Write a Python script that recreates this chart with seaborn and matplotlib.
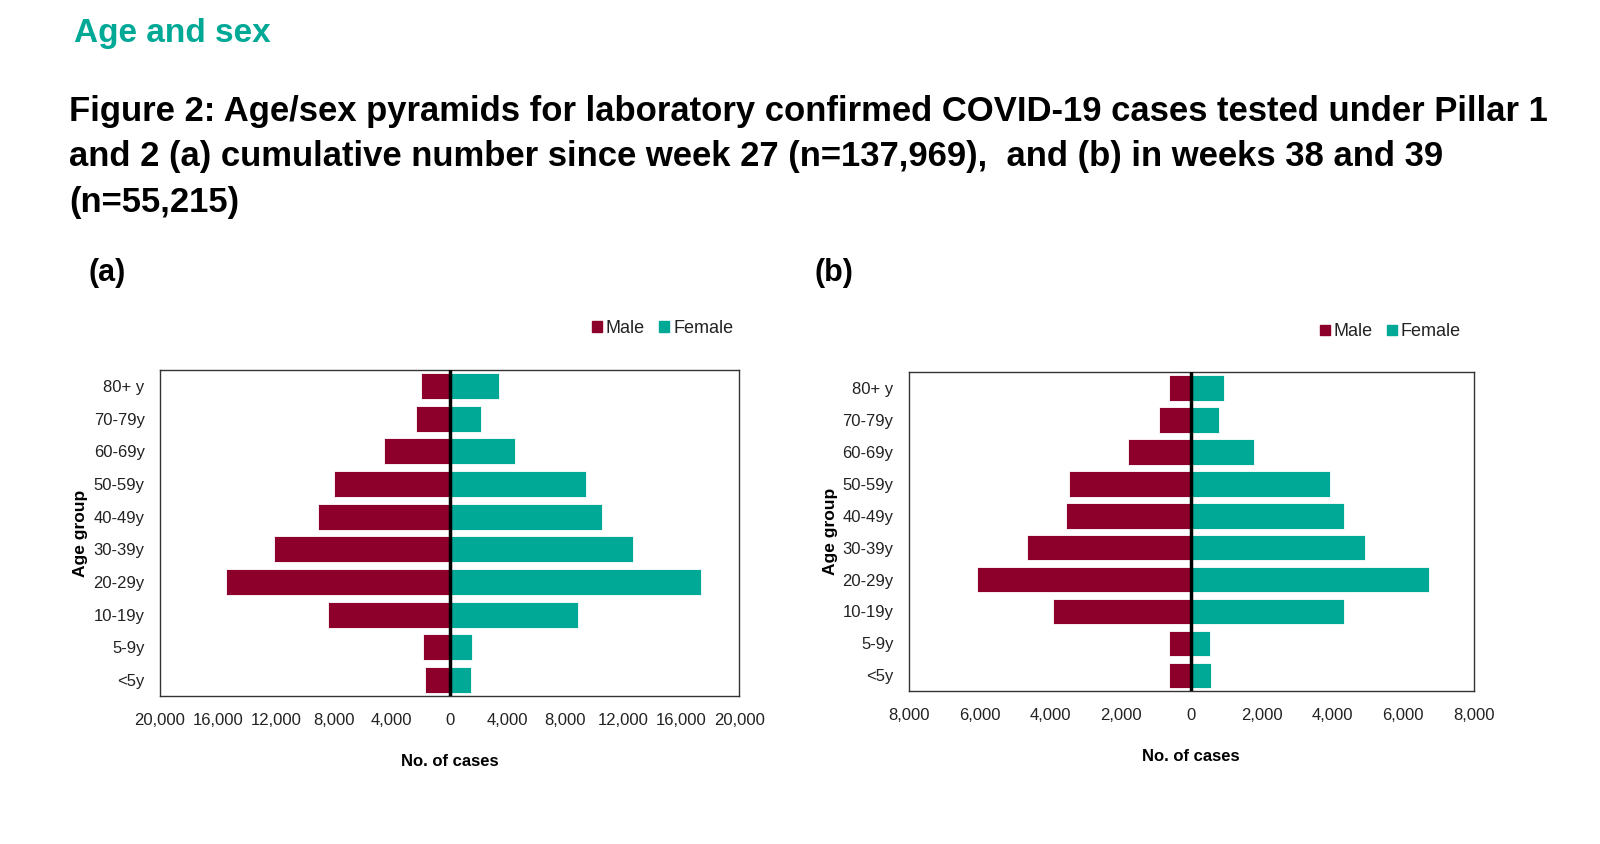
import matplotlib
matplotlib.use("Agg")
import matplotlib.pyplot as plt
import matplotlib.ticker as mticker
from matplotlib.patches import Patch
import pandas as pd
import seaborn as sns

# ---- data ----
age_groups = ["80+ y", "70-79y", "60-69y", "50-59y", "40-49y",
              "30-39y", "20-29y", "10-19y", "5-9y", "<5y"]

male_a = [2000, 2350, 4500, 7950, 9100, 12150, 15450, 8400, 1850, 1700]
female_a = [3400, 2150, 4550, 9450, 10550, 12700, 17350, 8900, 1580, 1450]

male_b = [620, 910, 1800, 3470, 3560, 4660, 6080, 3910, 620, 620]
female_b = [920, 780, 1770, 3940, 4320, 4930, 6740, 4340, 530, 560]

ticks_a = [-20000, -16000, -12000, -8000, -4000, 0, 4000, 8000, 12000, 16000, 20000]
ticks_b = [-8000, -6000, -4000, -2000, 0, 2000, 4000, 6000, 8000]

MALE = "#8E002C"
FEMALE = "#00A896"
TEAL_HEAD = "#00A896"

sns.set_style("white")
plt.rcParams["font.family"] = ["Liberation Sans", "DejaVu Sans"]


def long_frame(male, female):
    rows = []
    for age, m, f in zip(age_groups, male, female):
        rows.append({"age": age, "cases": -m, "sex": "Male"})
        rows.append({"age": age, "cases": f, "sex": "Female"})
    return pd.DataFrame(rows)


def pyramid(ax, male, female, ticks, legend_anchor, ylab_x):
    df = long_frame(male, female)
    sns.barplot(data=df, y="age", x="cases", hue="sex", order=age_groups,
                hue_order=["Male", "Female"], palette=[MALE, FEMALE],
                saturation=1, dodge=False, orient="h", width=0.8,
                edgecolor="white", linewidth=0.6, ax=ax, legend=False)
    ax.axvline(0, color="black", lw=2.5, zorder=5)
    ax.set_xlim(ticks[0], ticks[-1])
    ax.set_xticks(ticks)
    ax.xaxis.set_major_formatter(mticker.FuncFormatter(lambda v, p: f"{abs(v):,.0f}"))
    ax.tick_params(axis="both", length=0, labelsize=12, colors="#222222")
    ax.tick_params(axis="x", pad=12)
    ax.tick_params(axis="y", pad=11)
    ax.set_xlabel("No. of cases", fontsize=12, fontweight="bold", labelpad=19,
                  color="black")
    ax.set_ylabel("Age group", fontsize=12.5, fontweight="bold", color="black")
    ax.yaxis.set_label_coords(ylab_x, 0.5)
    for s in ax.spines.values():
        s.set_visible(True)
        s.set_color("#333333")
        s.set_linewidth(1.0)
    handles = [Patch(color=MALE, label="Male"), Patch(color=FEMALE, label="Female")]
    ax.legend(handles=handles, loc="lower right", bbox_to_anchor=legend_anchor,
              bbox_transform=ax.transAxes, ncol=2, frameon=False, fontsize=13,
              handlelength=0.55, handleheight=0.55, handletextpad=0.2,
              columnspacing=0.8, borderaxespad=0, labelcolor="#222222")


fig = plt.figure(figsize=(16, 8.44), dpi=100)
ax_a = fig.add_axes([0.100, 0.175, 0.362, 0.387])
ax_b = fig.add_axes([0.568, 0.181, 0.353, 0.378])

pyramid(ax_a, male_a, female_a, ticks_a, (1.002, 1.077), -0.125)
pyramid(ax_b, male_b, female_b, ticks_b, (0.99, 1.077), -0.125)

fig.text(0.046, 0.960, "Age and sex", color=TEAL_HEAD, fontsize=24,
         fontweight="bold", va="center", ha="left")
fig.text(0.043, 0.814,
         "Figure 2: Age/sex pyramids for laboratory confirmed COVID-19 cases tested under Pillar 1\n"
         "and 2 (a) cumulative number since week 27 (n=137,969),  and (b) in weeks 38 and 39\n"
         "(n=55,215)",
         fontsize=24.9, fontweight="bold", va="center", ha="left",
         linespacing=1.48, color="black")
fig.text(0.055, 0.676, "(a)", fontsize=22, fontweight="bold", va="center",
         color="black")
fig.text(0.509, 0.676, "(b)", fontsize=22, fontweight="bold", va="center",
         color="black")

fig.savefig("out.png", dpi=100, facecolor="white")
